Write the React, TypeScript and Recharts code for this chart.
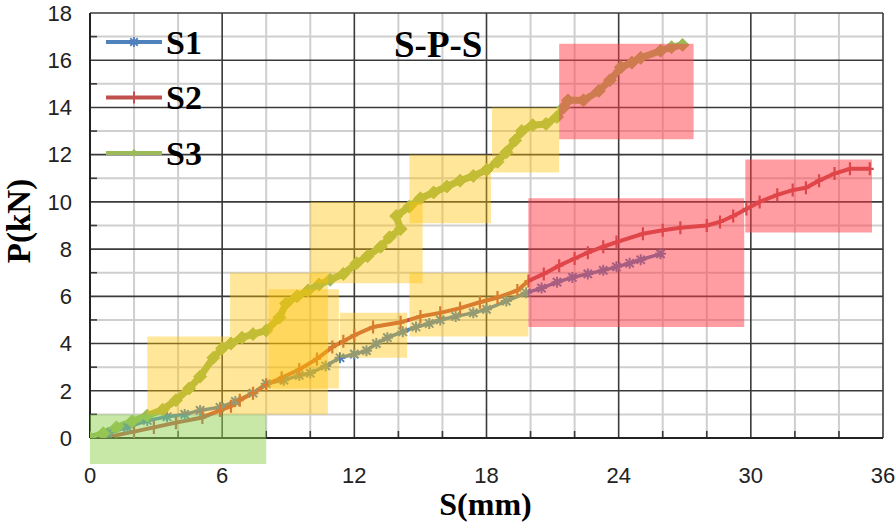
import React from 'react';
import { LineChart, Line, XAxis, YAxis, ReferenceLine, ReferenceArea, Legend } from 'recharts';

// ---- Data ----
const s1X = [0, 0.8, 1.7, 2.6, 3.5, 4.3, 5.0, 5.9, 6.6, 7.4, 8.0, 8.8, 9.5, 10.0, 10.7, 11.35, 12.0, 12.55, 13.0, 13.5, 14.2, 14.8, 15.4, 15.9, 16.6, 17.4, 18.0, 18.9, 19.8, 20.5, 21.2, 21.9, 22.6, 23.3, 23.9, 24.5, 25.0, 25.9];
const s1Y = [0, 0.2, 0.45, 0.74, 0.9, 1.0, 1.17, 1.3, 1.55, 1.9, 2.3, 2.45, 2.65, 2.75, 3.05, 3.4, 3.55, 3.7, 4.0, 4.25, 4.5, 4.7, 4.85, 5.0, 5.15, 5.3, 5.45, 5.8, 6.15, 6.35, 6.6, 6.8, 6.95, 7.1, 7.25, 7.4, 7.55, 7.8];

const s2X = [0.6, 1.2, 2.0, 2.9, 3.9, 5.1, 5.9, 6.4, 6.8, 7.4, 8.0, 8.7, 9.5, 10.3, 11.0, 11.5, 12.0, 12.85, 14.1, 15.0, 15.9, 16.8, 17.7, 18.5, 19.4, 19.9, 20.6, 21.3, 22.0, 22.6, 23.3, 23.9, 25.1, 26.0, 26.8, 28.0, 28.6, 29.2, 29.8, 30.4, 31.2, 31.9, 32.5, 33.1, 33.8, 34.5, 35.4];
const s2Y = [0, 0.12, 0.27, 0.45, 0.65, 0.87, 1.17, 1.35, 1.6, 1.9, 2.25, 2.55, 2.9, 3.35, 3.85, 4.1, 4.35, 4.7, 4.9, 5.15, 5.3, 5.5, 5.75, 5.95, 6.25, 6.65, 6.95, 7.3, 7.6, 7.85, 8.1, 8.3, 8.65, 8.8, 8.9, 9.0, 9.15, 9.4, 9.7, 10.0, 10.3, 10.5, 10.6, 10.9, 11.2, 11.4, 11.4];

const s3X = [0, 0.6, 1.2, 1.9, 2.6, 3.3, 3.9, 4.5, 5.0, 5.6, 6.0, 6.4, 6.9, 7.4, 8.0, 8.6, 8.9, 9.4, 9.9, 10.4, 10.9, 11.5, 12.1, 12.6, 13.2, 13.6, 14.1, 13.9, 14.5, 15.0, 15.6, 16.2, 16.8, 17.4, 18.0, 18.5, 18.9, 19.3, 19.6, 20.1, 20.7, 21.2, 21.5, 21.7, 22.4, 23.1, 23.6, 24.1, 24.6, 25.0, 25.9, 26.4, 26.9];
const s3Y = [0, 0.2, 0.45, 0.7, 0.95, 1.2, 1.6, 2.1, 2.6, 3.4, 3.8, 4.0, 4.25, 4.4, 4.55, 5.1, 5.7, 6.0, 6.25, 6.5, 6.7, 6.95, 7.4, 7.7, 8.1, 8.5, 8.85, 9.4, 9.8, 10.15, 10.4, 10.65, 10.9, 11.1, 11.35, 11.7, 12.1, 12.6, 13.0, 13.25, 13.3, 13.6, 14.0, 14.3, 14.3, 14.7, 15.15, 15.7, 15.9, 16.1, 16.4, 16.55, 16.65];

const seriesNames = ['S1', 'S2', 'S3'];

const xMajorTicks = [0, 6, 12, 18, 24, 30, 36];
const xMinorTicks = [2, 4, 8, 10, 14, 16, 20, 22, 26, 28, 32, 34];
const yMajorTicks = [0, 2, 4, 6, 8, 10, 12, 14, 16, 18];
const yMinorTicks = [1, 3, 5, 7, 9, 11, 13, 15, 17];

// highlighted zones [x1, x2, y1, y2]
const greenZones = [[0, 8, -1.1, 1]];
const yellowZones = [
  [2.6, 6.36, 1.0, 4.3],
  [6.36, 10.8, 1.0, 7.0],
  [8.1, 11.3, 2.1, 6.3],
  [10.0, 15.1, 6.55, 10.0],
  [11.35, 14.4, 3.4, 5.3],
  [14.5, 18.2, 9.1, 12.0],
  [14.5, 19.9, 4.3, 7.0],
  [18.25, 21.3, 11.25, 14.0],
];
const redZones = [
  [21.3, 27.4, 12.65, 16.7],
  [19.9, 29.7, 4.7, 10.15],
  [29.75, 35.5, 8.7, 11.8],
];

const toPoints = (xs: number[], ys: number[]) => xs.map((x, i) => ({ x, y: ys[i] }));
const s1Data = toPoints(s1X, s1Y);
const s2Data = toPoints(s2X, s2Y);
const s3Data = toPoints(s3X, s3Y);

const C1 = '#4F81BD';
const C2 = '#C0504D';
const C3 = '#9BBB59';

const starPath = (cx: number, cy: number, r: number) =>
  `M${cx - r},${cy}L${cx + r},${cy}M${cx},${cy - r}L${cx},${cy + r}M${cx - r * 0.75},${cy - r * 0.75}L${cx + r * 0.75},${cy + r * 0.75}M${cx - r * 0.75},${cy + r * 0.75}L${cx + r * 0.75},${cy - r * 0.75}`;
const plusPath = (cx: number, cy: number, r: number) =>
  `M${cx},${cy - r}L${cx},${cy + r}M${cx - r * 0.6},${cy}L${cx + r * 0.6},${cy}`;
const diamondPath = (cx: number, cy: number, r: number) =>
  `M${cx},${cy - r}L${cx + r},${cy}L${cx},${cy + r}L${cx - r},${cy}Z`;

const makeDot = (kind: string, color: string) => (props: any) => {
  const { cx, cy, index } = props;
  const key = `${kind}-${index}`;
  if (cx == null || cy == null) return <g key={key} />;
  if (kind === 'star')
    return <path key={key} d={starPath(cx, cy, 5.5)} stroke={color} strokeWidth={2} fill="none" />;
  if (kind === 'plus')
    return <path key={key} d={plusPath(cx, cy, 6.5)} stroke={color} strokeWidth={2.2} fill="none" />;
  return <path key={key} d={diamondPath(cx, cy, 6.5)} fill={color} stroke={color} strokeWidth={1} />;
};

const serifFont = '"Liberation Serif", "Times New Roman", serif';
const tickFont = '"Liberation Sans", Arial, sans-serif';

const legendItems = [
  { name: seriesNames[0], color: C1, kind: 'star' },
  { name: seriesNames[1], color: C2, kind: 'plus' },
  { name: seriesNames[2], color: C3, kind: 'diamond' },
];

const LegendContent = () => (
  <svg width={120} height={170} style={{ display: 'block' }}>
    {legendItems.map((it, i) => {
      const y = 27 + i * 55.5;
      const cx = 34;
      return (
        <g key={it.name}>
          <line x1={6} x2={62} y1={y} y2={y} stroke={it.color} strokeWidth={4} />
          {it.kind === 'star' && <path d={starPath(cx, y, 5)} stroke={it.color} strokeWidth={1.8} fill="none" />}
          {it.kind === 'plus' && <path d={plusPath(cx, y, 6)} stroke={it.color} strokeWidth={2} fill="none" />}
          {it.kind === 'diamond' && <path d={diamondPath(cx, y, 4)} fill={it.color} />}
          <text x={66} y={y + 11.5} fontFamily={serifFont} fontWeight="bold" fontSize={34} fill="#000">
            {it.name}
          </text>
        </g>
      );
    })}
  </svg>
);

const W = 896;
const H = 524;
const MARGIN = { top: 13, right: 13, bottom: 0, left: 0 };
const XH = 86;
const YW = 90;

function ZoneLayer() {
  return (
    <LineChart width={W} height={H} margin={MARGIN}>
      <XAxis type="number" dataKey="x" domain={[0, 36]} ticks={xMajorTicks} allowDataOverflow height={XH} tick={false} tickLine={false} axisLine={false} />
      <YAxis type="number" dataKey="y" domain={[0, 18]} ticks={yMajorTicks} allowDataOverflow width={YW} tick={false} tickLine={false} axisLine={false} />
      {greenZones.map((z, i) => (
        <ReferenceArea key={`g${i}`} x1={z[0]} x2={z[1]} y1={z[2]} y2={z[3]} fill="#8FD14F" fillOpacity={0.5} stroke="none" ifOverflow="visible" />
      ))}
      {yellowZones.map((z, i) => (
        <ReferenceArea key={`y${i}`} x1={z[0]} x2={z[1]} y1={z[2]} y2={z[3]} fill="#FFC000" fillOpacity={0.4} stroke="none" ifOverflow="visible" />
      ))}
      {redZones.map((z, i) => (
        <ReferenceArea key={`r${i}`} x1={z[0]} x2={z[1]} y1={z[2]} y2={z[3]} fill="#FF3B45" fillOpacity={0.5} stroke="none" ifOverflow="visible" />
      ))}
    </LineChart>
  );
}

export default function App() {
  return (
    <div style={{ position: 'absolute', left: 0, top: 0, width: W, height: H, background: '#fff' }}>
      <div style={{ position: 'absolute', left: 0, top: 0 }}>
        <LineChart width={W} height={H} margin={MARGIN} style={{ fontFamily: tickFont }}>
          <XAxis
            type="number"
            dataKey="x"
            domain={[0, 36]}
            ticks={xMajorTicks}
            allowDataOverflow
            height={XH}
            tickLine={false}
            tickSize={0}
            tickMargin={29}
            axisLine={{ stroke: '#222', strokeWidth: 2 }}
            tick={{ fill: '#222', fontSize: 22, fontFamily: tickFont }}
            label={(props: any) => {
              const vb = props.viewBox || { x: 90, y: 438, width: 793, height: 86 };
              return (
                <text x={vb.x + vb.width / 2 - 1} y={515} textAnchor="middle" fontFamily={serifFont} fontWeight="bold" fontSize={32} fill="#000">
                  S(mm)
                </text>
              );
            }}
          />
          <YAxis
            type="number"
            dataKey="y"
            domain={[0, 18]}
            ticks={yMajorTicks}
            allowDataOverflow
            width={YW}
            tickLine={false}
            tickSize={0}
            tickMargin={18}
            axisLine={{ stroke: '#222', strokeWidth: 2 }}
            tick={{ fill: '#222', fontSize: 22, fontFamily: tickFont }}
            label={() => (
              <text x={30} y={221} transform="rotate(-90, 30, 221)" textAnchor="middle" fontFamily={serifFont} fontWeight="bold" fontSize={33} fill="#000">
                P(kN)
              </text>
            )}
          />

          {xMinorTicks.map((v) => (
            <ReferenceLine key={`xm${v}`} x={v} stroke="#CFCFCF" strokeWidth={2} />
          ))}
          {yMinorTicks.map((v) => (
            <ReferenceLine key={`ym${v}`} y={v} stroke="#CFCFCF" strokeWidth={2} />
          ))}
          {xMajorTicks.map((v) => (
            <ReferenceLine key={`xM${v}`} x={v} stroke="#3a3a3a" strokeWidth={1.6} />
          ))}
          {yMajorTicks.map((v) => (
            <ReferenceLine key={`yM${v}`} y={v} stroke="#3a3a3a" strokeWidth={1.6} />
          ))}
          {xMinorTicks.map((v) => (
            <ReferenceLine key={`xt${v}`} segment={[{ x: v, y: 0 }, { x: v, y: 0.3 }]} stroke="#3a3a3a" strokeWidth={1.6} />
          ))}
          {yMinorTicks.map((v) => (
            <ReferenceLine key={`yt${v}`} segment={[{ x: 0, y: v }, { x: 0.32, y: v }]} stroke="#3a3a3a" strokeWidth={1.6} />
          ))}

          <Line data={s1Data} dataKey="y" name={seriesNames[0]} stroke={C1} strokeWidth={3.5} dot={makeDot('star', C1)} activeDot={false} isAnimationActive={false} />
          <Line data={s2Data} dataKey="y" name={seriesNames[1]} stroke={C2} strokeWidth={4} dot={makeDot('plus', C2)} activeDot={false} isAnimationActive={false} />
          <Line data={s3Data} dataKey="y" name={seriesNames[2]} stroke={C3} strokeWidth={7} dot={makeDot('diamond', C3)} activeDot={false} isAnimationActive={false} />

          <Legend
            layout="vertical"
            align="center"
            verticalAlign="middle"
            content={() => <LegendContent />}
            wrapperStyle={{ left: 100, top: 15, width: 120, height: 170, bottom: 'auto', right: 'auto' }}
          />
        </LineChart>
      </div>
      <div style={{ position: 'absolute', left: 0, top: 0, pointerEvents: 'none' }}>
        <ZoneLayer />
      </div>
      <svg width={140} height={50} style={{ position: 'absolute', left: 390, top: 20, overflow: 'visible' }}>
        <text x={4} y={37} fontFamily={serifFont} fontWeight="bold" fontSize={37} fill="#000">
          S-P-S
        </text>
      </svg>
    </div>
  );
}
